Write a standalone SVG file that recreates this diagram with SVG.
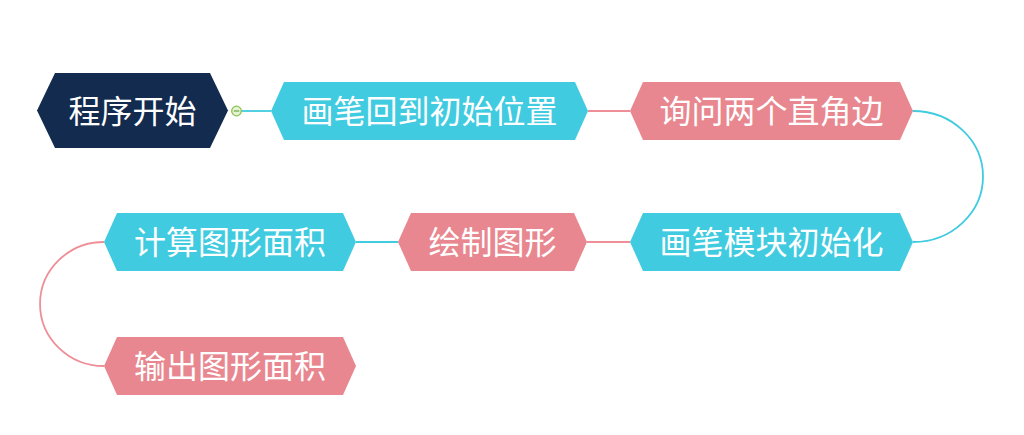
<svg xmlns="http://www.w3.org/2000/svg" width="1024" height="435" viewBox="0 0 1024 435">
<style>
.lbl{font-family:"Noto Sans CJK SC","Noto Sans",sans-serif;font-size:32px;fill:#ffffff;text-anchor:middle}
.navy{fill:#132b4f}
.cyan{fill:#41cbe0}
.pink{fill:#e8878f}
.lc{stroke:#41cbe0;stroke-width:1.8;fill:none}
.lp{stroke:#ee8f98;stroke-width:1.8;fill:none}
</style>
<rect width="1024" height="435" fill="#ffffff"/>
<g id="connectors">
<line class="lc" x1="241" y1="111" x2="271" y2="111"/>
<line class="lp" x1="588" y1="111" x2="630" y2="111"/>
<path class="lc" d="M913,111 A70,65.5 0 0 1 913,242"/>
<line class="lp" x1="587" y1="242" x2="630" y2="242"/>
<line class="lc" x1="356" y1="242" x2="398" y2="242"/>
<path class="lp" d="M104,242 A64,62 0 0 0 104,366"/>
<circle cx="236.5" cy="111" r="4.8" fill="#e4f3d4" stroke="#8cc152" stroke-width="1.3"/>
<line x1="233.8" y1="111" x2="239.2" y2="111" stroke="#6aa83a" stroke-width="1.2"/>
</g>
<g id="n1">
<path class="navy" d="M37,110.5 L55,73 L210,73 L228,110.5 L210,148 L55,148 Z"/>
<text class="lbl" x="132.5" y="122.5">程序开始</text>
</g>
<g id="n2">
<path class="cyan" d="M271,111 L284,82 L575,82 L588,111 L575,140 L284,140 Z"/>
<text class="lbl" x="429.5" y="122.5">画笔回到初始位置</text>
</g>
<g id="n3">
<path class="pink" d="M630,111 L643,82 L900,82 L913,111 L900,140 L643,140 Z"/>
<text class="lbl" x="771.5" y="122.5">询问两个直角边</text>
</g>
<g id="n4">
<path class="cyan" d="M630,242 L643,213 L900,213 L913,242 L900,271 L643,271 Z"/>
<text class="lbl" x="771.5" y="253.5">画笔模块初始化</text>
</g>
<g id="n5">
<path class="pink" d="M398,242 L411,213 L574,213 L587,242 L574,271 L411,271 Z"/>
<text class="lbl" x="492.5" y="253.5">绘制图形</text>
</g>
<g id="n6">
<path class="cyan" d="M104,242 L117,213 L343,213 L356,242 L343,271 L117,271 Z"/>
<text class="lbl" x="230" y="253.5">计算图形面积</text>
</g>
<g id="n7">
<path class="pink" d="M104,366 L117,337 L343,337 L356,366 L343,395 L117,395 Z"/>
<text class="lbl" x="230" y="377.5">输出图形面积</text>
</g>
</svg>
